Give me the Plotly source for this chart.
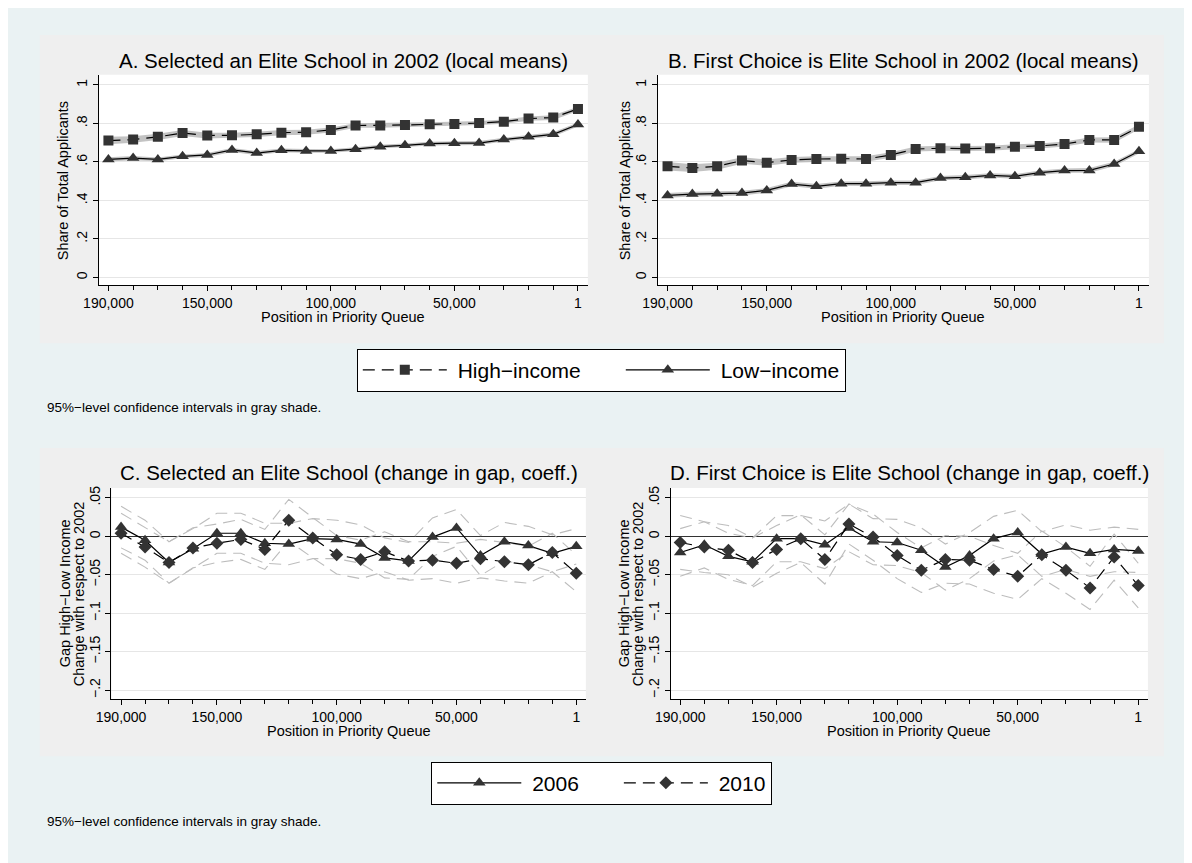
import plotly.graph_objects as go

# position in the priority queue (x values shared by all four panels)
positions = [190000, 180000, 170000, 160000, 150000, 140000, 130000, 120000, 110000, 100000,
             90000, 80000, 70000, 60000, 50000, 40000, 30000, 20000, 10000, 1]
major_ticks = [190000, 150000, 100000, 50000, 1]
major_labels = ["190,000", "150,000", "100,000", "50,000", "1"]
minor_ticks = [180000, 170000, 160000, 140000, 130000, 120000, 110000, 90000, 80000,
               70000, 60000, 40000, 30000, 20000, 10000]

# Panel A: selected an elite school in 2002 (local means)
a_high = [0.711, 0.716, 0.730, 0.750, 0.737, 0.738, 0.743, 0.752, 0.754, 0.766,
          0.789, 0.789, 0.792, 0.795, 0.797, 0.802, 0.809, 0.825, 0.830, 0.875]
a_high_ci = [0.019, 0.017, 0.016, 0.016, 0.015, 0.014, 0.014, 0.014, 0.013, 0.013,
             0.012, 0.012, 0.012, 0.011, 0.011, 0.011, 0.011, 0.011, 0.012, 0.011]
a_low = [0.613, 0.620, 0.613, 0.629, 0.636, 0.662, 0.646, 0.660, 0.657, 0.657,
         0.666, 0.679, 0.686, 0.695, 0.697, 0.698, 0.716, 0.730, 0.743, 0.794]
a_low_ci = [0.011, 0.011, 0.010, 0.010, 0.010, 0.010, 0.010, 0.010, 0.010, 0.009,
            0.010, 0.010, 0.009, 0.010, 0.010, 0.010, 0.010, 0.011, 0.011, 0.010]

# Panel B: first choice is elite school in 2002 (local means)
b_high = [0.577, 0.568, 0.577, 0.607, 0.596, 0.610, 0.615, 0.617, 0.615, 0.636,
          0.667, 0.671, 0.669, 0.671, 0.679, 0.683, 0.693, 0.714, 0.714, 0.782]
b_high_ci = [0.022, 0.020, 0.018, 0.017, 0.016, 0.015, 0.015, 0.014, 0.014, 0.014,
             0.013, 0.013, 0.013, 0.013, 0.013, 0.013, 0.013, 0.013, 0.014, 0.012]
b_low = [0.426, 0.433, 0.435, 0.438, 0.452, 0.485, 0.473, 0.487, 0.487, 0.492,
         0.492, 0.516, 0.520, 0.530, 0.525, 0.544, 0.555, 0.556, 0.589, 0.655]
b_low_ci = [0.012, 0.012, 0.012, 0.012, 0.012, 0.012, 0.012, 0.011, 0.012, 0.012,
            0.012, 0.011, 0.012, 0.011, 0.012, 0.012, 0.011, 0.012, 0.012, 0.011]

# Panel C: selected an elite school (change in gap, coeff.)
c_2006 = [0.012, -0.005, -0.034, -0.016, 0.004, 0.004, -0.009, -0.010, -0.003, -0.004,
          -0.010, -0.028, -0.032, -0.001, 0.011, -0.025, -0.007, -0.012, -0.022, -0.013]
c_2006_ci = [0.027, 0.026, 0.027, 0.026, 0.026, 0.026, 0.026, 0.027, 0.026, 0.025,
             0.025, 0.026, 0.024, 0.025, 0.024, 0.026, 0.025, 0.025, 0.024, 0.023]
c_2010 = [0.004, -0.014, -0.034, -0.015, -0.009, -0.004, -0.017, 0.021, -0.002, -0.024,
          -0.030, -0.020, -0.032, -0.031, -0.035, -0.029, -0.033, -0.037, -0.021, -0.048]
c_2010_ci = [0.026, 0.026, 0.027, 0.026, 0.025, 0.026, 0.026, 0.027, 0.026, 0.025,
             0.025, 0.026, 0.025, 0.024, 0.026, 0.025, 0.025, 0.024, 0.025, 0.024]

# Panel D: first choice is elite school (change in gap, coeff.)
d_2006 = [-0.021, -0.011, -0.026, -0.033, -0.003, -0.003, -0.011, 0.011, -0.007, -0.008,
          -0.018, -0.040, -0.025, -0.003, 0.005, -0.023, -0.014, -0.022, -0.017, -0.019]
d_2006_ci = [0.031, 0.030, 0.030, 0.031, 0.030, 0.030, 0.031, 0.031, 0.030, 0.030,
             0.029, 0.030, 0.030, 0.029, 0.029, 0.029, 0.029, 0.030, 0.029, 0.028]
d_2010 = [-0.008, -0.014, -0.018, -0.034, -0.017, -0.003, -0.030, 0.016, -0.001, -0.025,
          -0.044, -0.030, -0.031, -0.043, -0.052, -0.024, -0.044, -0.067, -0.027, -0.064]
d_2010_ci = [0.035, 0.033, 0.032, 0.032, 0.031, 0.031, 0.032, 0.026, 0.030, 0.030,
             0.029, 0.031, 0.031, 0.031, 0.030, 0.031, 0.030, 0.028, 0.030, 0.029]

W, H = 1192, 863
# the page shows the figure shifted right/down and a bit narrower than asked
OFF_X, OFF_Y, SCALE_X = 22.2, 9, 0.99
FONT = "Liberation Sans, Arial, Helvetica, sans-serif"
MARK = "#333333"
DASH = "12px,7px"
NB = "\u00a0"


def px(x):
    return (x - OFF_X) / SCALE_X / W


def py(y):
    return 1 - (y - OFF_Y) / H


fig = go.Figure()


def add_band(xa, ya, mean, half):
    lo = [m - h for m, h in zip(mean, half)]
    hi = [m + h for m, h in zip(mean, half)]
    fig.add_trace(go.Scatter(x=positions, y=lo, mode="lines", line=dict(width=0),
                             hoverinfo="skip", showlegend=False, xaxis=xa, yaxis=ya))
    fig.add_trace(go.Scatter(x=positions, y=hi, mode="lines", line=dict(width=0),
                             fill="tonexty", fillcolor="rgba(175,175,175,0.75)",
                             hoverinfo="skip", showlegend=False, xaxis=xa, yaxis=ya))


def add_ci_lines(xa, ya, mean, half):
    for sign in (-1, 1):
        fig.add_trace(go.Scatter(x=positions, y=[m + sign * h for m, h in zip(mean, half)],
                                 mode="lines", line=dict(color="#bdbdbd", width=1.1, dash=DASH),
                                 hoverinfo="skip", showlegend=False, xaxis=xa, yaxis=ya))


def add_series(xa, ya, vals, name, symbol, size, dash, legend, show):
    fig.add_trace(go.Scatter(x=positions, y=vals, mode="lines+markers", name=name,
                             line=dict(color="black", width=1.2, dash=dash),
                             marker=dict(symbol=symbol, size=size, color=MARK),
                             showlegend=show, legend=legend, xaxis=xa, yaxis=ya))


# top row: local means with shaded confidence bands
for xa, ya, high, high_ci, low, low_ci, show in [
        ("x", "y", a_high, a_high_ci, a_low, a_low_ci, True),
        ("x2", "y2", b_high, b_high_ci, b_low, b_low_ci, False)]:
    add_band(xa, ya, high, high_ci)
    add_band(xa, ya, low, low_ci)
    add_series(xa, ya, high, NB + "High\u2212income" + NB * 6, "square", 10, DASH, "legend", show)
    add_series(xa, ya, low, NB + "Low\u2212income", "triangle-up", 11, "solid", "legend", show)

# bottom row: change in gap coefficients with dashed CI lines
for xa, ya, s06, s06_ci, s10, s10_ci, show in [
        ("x3", "y3", c_2006, c_2006_ci, c_2010, c_2010_ci, True),
        ("x4", "y4", d_2006, d_2006_ci, d_2010, d_2010_ci, False)]:
    add_ci_lines(xa, ya, s06, s06_ci)
    add_ci_lines(xa, ya, s10, s10_ci)
    add_series(xa, ya, s06, NB + "2006" + NB * 6, "triangle-up", 11, "solid", "legend2", show)
    add_series(xa, ya, s10, NB + "2010", "diamond", 10, DASH, "legend2", show)

# plot areas in pixels: (left, right, top, bottom)
boxes = {
    "": (97, 588, 74, 285),
    "2": (658, 1151, 74, 285),
    "3": (110, 586, 488, 700),
    "4": (671, 1150, 488, 700),
}

tick_font = dict(family=FONT, size=14, color="black")
layout_axes = {}
for key, (l, r, t, b) in boxes.items():
    layout_axes["xaxis" + key] = dict(
        domain=[px(l), px(r)], anchor="y" + key, range=[194000, -4000],
        showgrid=False, zeroline=False, showline=True, linecolor="black", linewidth=1,
        ticks="outside", ticklen=5, tickcolor="black", tickvals=major_ticks,
        ticktext=major_labels, tickfont=tick_font,
        minor=dict(tickvals=minor_ticks, ticks="outside", ticklen=4, tickcolor="black",
                   showgrid=False))
    if key in ("", "2"):
        ydict = dict(range=[-0.041, 1.052], tickvals=[0, 0.2, 0.4, 0.6, 0.8, 1],
                     ticktext=["0", ".2", ".4", ".6", ".8", "1"], zeroline=False)
    else:
        ydict = dict(range=[-0.212, 0.063], tickvals=[0.05, 0, -0.05, -0.1, -0.15, -0.2],
                     ticktext=[".05", "0", "\u2212.05", "\u2212.1", "\u2212.15", "\u2212.2"],
                     zeroline=True, zerolinecolor="#333333", zerolinewidth=1)
    layout_axes["yaxis" + key] = dict(
        domain=[py(b), py(t)], anchor="x" + key, showgrid=True, gridcolor="#e6e6e6",
        gridwidth=1, showline=True, linecolor="black", linewidth=1, ticks="outside",
        ticklen=5, tickcolor="black", tickangle=-90, tickfont=tick_font, **ydict)

shapes = [
    dict(type="rect", xref="paper", yref="paper", x0=px(38), x1=px(1166), y0=py(343), y1=py(34),
         fillcolor="#efefef", line=dict(width=0), layer="below"),
    dict(type="rect", xref="paper", yref="paper", x0=px(38), x1=px(1166), y0=py(757), y1=py(448),
         fillcolor="#efefef", line=dict(width=0), layer="below"),
]
for l, r, t, b in boxes.values():
    shapes.append(dict(type="rect", xref="paper", yref="paper", x0=px(l), x1=px(r),
                       y0=py(b), y1=py(t), fillcolor="white", line=dict(width=0), layer="below"))

annotations = []


def text(x, y, s, size, angle=0, xanchor="center"):
    annotations.append(dict(x=px(x), y=py(y), xref="paper", yref="paper", text=s,
                            showarrow=False, textangle=angle, xanchor=xanchor, yanchor="middle",
                            font=dict(family=FONT, size=size, color="black")))


text(342.5, 60, "A. Selected an Elite School in 2002 (local means)", 20.5)
text(904.5, 60, "B. First Choice is Elite School in 2002 (local means)", 20.5)
text(348, 473, "C. Selected an Elite School (change in gap, coeff.)", 20.5)
text(910.5, 473, "D. First Choice is Elite School (change in gap, coeff.)", 20.5)
for cx in (342.5, 904.5):
    text(cx, 317, "Position in Priority Queue", 14.5)
for cx in (348, 910.5):
    text(cx, 732, "Position in Priority Queue", 14.5)
text(61, 180, "Share of Total Applicants", 14.5, -90)
text(625, 180, "Share of Total Applicants", 14.5, -90)
for ax_left in (110, 671):
    text(ax_left - 47, 594, "Gap High\u2212Low Income", 14.5, -90)
    text(ax_left - 33, 594, "Change with respect to 2002", 14.5, -90)
text(43, 407, "95%\u2212level confidence intervals in gray shade.", 13.5, xanchor="left")
text(43, 822, "95%\u2212level confidence intervals in gray shade.", 13.5, xanchor="left")

legend_style = dict(orientation="h", xanchor="center", yanchor="middle", bgcolor="white",
                    bordercolor="black", borderwidth=1, itemwidth=84, traceorder="normal",
                    font=dict(family=FONT, size=21, color="black"))

fig.update_layout(
    width=W, height=H, margin=dict(l=0, r=0, t=0, b=0),
    paper_bgcolor="#eaf2f3", plot_bgcolor="white",
    font=dict(family=FONT, color="black"),
    shapes=shapes, annotations=annotations,
    legend=dict(x=px(601.5), y=py(370), **legend_style),
    legend2=dict(x=px(602), y=py(784), **legend_style),
    **layout_axes,
)

fig.write_html("out.html")
